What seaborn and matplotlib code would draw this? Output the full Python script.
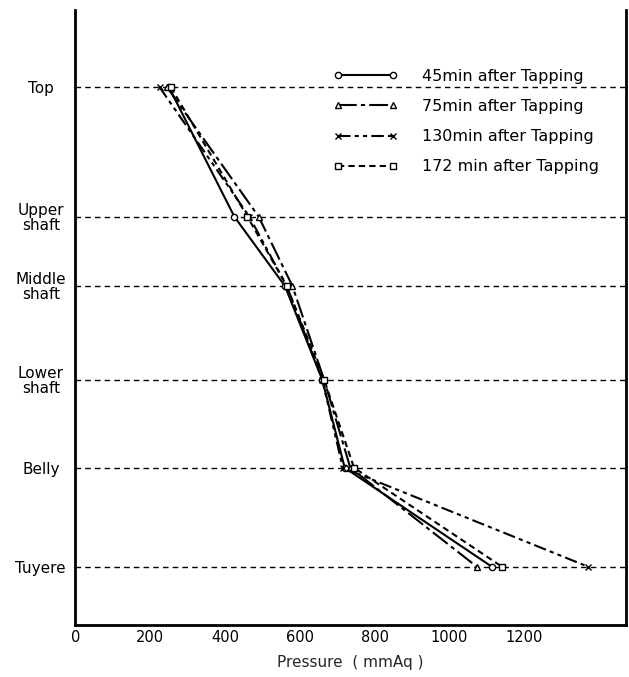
import pandas as pd
import matplotlib
matplotlib.use("Agg")
import matplotlib.pyplot as plt
import seaborn as sns

sns.set_style("white")
plt.rcParams["font.family"] = ["DejaVu Sans"]

# ------------------------------------------------
# DATA
# ------------------------------------------------
levels = ["Top", "Upper\nshaft", "Middle\nshaft", "Lower\nshaft", "Belly", "Tuyere"]
level_height = [4.85, 3.54, 2.84, 1.89, 1.0, 0.0]

series = ["45min after Tapping", "75min after Tapping",
          "130min after Tapping", "172 min after Tapping"]
p_45 = [250, 425, 560, 660, 720, 1113]
p_75 = [245, 490, 580, 665, 735, 1073]
p_130 = [225, 465, 565, 660, 715, 1370]
p_172 = [255, 460, 565, 665, 745, 1140]

x_ticks = [0, 200, 400, 600, 800, 1000, 1200]

df = pd.DataFrame({
    "level": levels * 4,
    "height": level_height * 4,
    "pressure": p_45 + p_75 + p_130 + p_172,
    "time": sum([[s] * len(levels) for s in series], []),
})

# ------------------------------------------------
# STYLES
# ------------------------------------------------
markers = {series[0]: "o", series[1]: "^", series[2]: "x", series[3]: "s"}
dashes = {series[0]: None, series[1]: (9, 2, 2, 2),
          series[2]: (6, 2, 2, 2, 2, 2), series[3]: (3, 2)}

fig = plt.figure(figsize=(6.29, 6.77), dpi=100)
ax = fig.add_axes([0.12, 0.077, 0.875, 0.908])

for s in series:
    sub = df[df["time"] == s]
    sns.lineplot(data=sub, x="pressure", y="height", sort=False, estimator=None,
                 color="black", lw=1.5, marker=markers[s], markersize=4.5,
                 markerfacecolor="white", markeredgecolor="black",
                 markeredgewidth=1.0, dashes=False, label=s, ax=ax)
    if dashes[s]:
        ax.lines[-1].set_dashes(dashes[s])

for h in level_height:
    ax.axhline(h, color="black", lw=1.0, ls=(0, (4, 3)), zorder=0)

ax.set_xlim(0, 1472)
ax.set_ylim(-0.59, 5.63)
ax.set_xticks(x_ticks)
ax.set_xticklabels([str(t) for t in x_ticks], fontsize=10.5)
ax.set_yticks(level_height)
ax.set_yticklabels(levels, fontsize=11, linespacing=0.95, ha="center")
ax.tick_params(direction="in", length=5, width=1.2, colors="black")
ax.tick_params(axis="x", pad=4)
ax.tick_params(axis="y", pad=25)
ax.set_xlabel("Pressure  ( mmAq )", fontsize=11, labelpad=7)
ax.set_ylabel("")

ax.spines["top"].set_visible(False)
for sp in ["left", "right", "bottom"]:
    ax.spines[sp].set_color("black")
    ax.spines[sp].set_linewidth(2.0)

leg = ax.legend(loc="upper right", bbox_to_anchor=(0.962, 0.915), frameon=False,
                fontsize=11.5, handlelength=4.0, labelspacing=0.95,
                handletextpad=1.5, numpoints=2, borderaxespad=0)
for t in leg.get_texts():
    t.set_color("black")

fig.savefig("out.png", dpi=100)
